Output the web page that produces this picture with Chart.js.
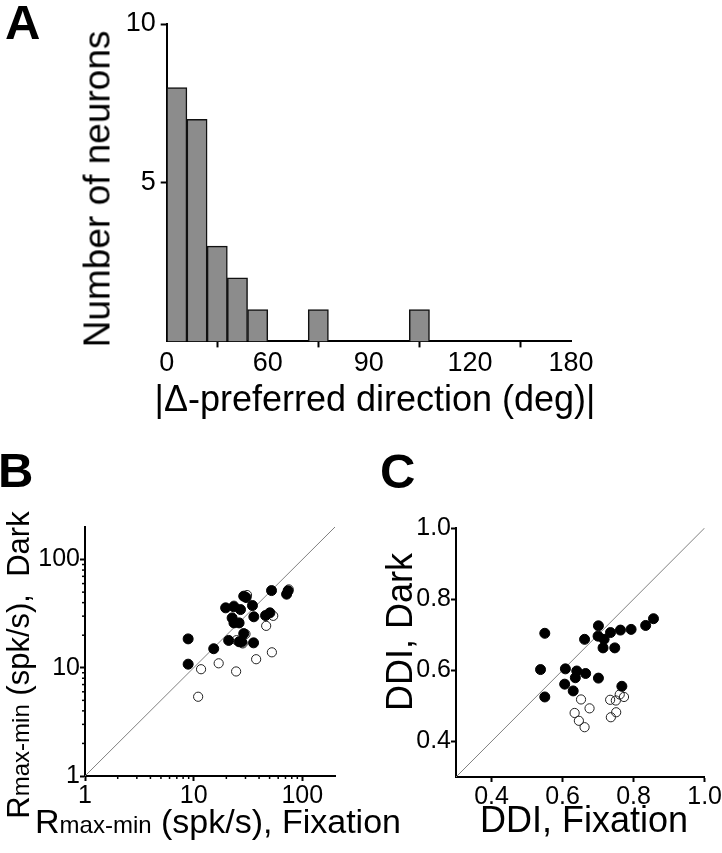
<!DOCTYPE html>
<html><head><meta charset="utf-8">
<script src="https://cdn.jsdelivr.net/npm/chart.js@4.4.0/dist/chart.umd.min.js"></script>
<style>
html,body{margin:0;padding:0;background:#fff;}
#page{position:relative;width:722px;height:853px;overflow:hidden;font-family:'Liberation Sans',Arial,sans-serif;color:#000;}
.box{position:absolute;}
.t{position:absolute;white-space:nowrap;line-height:1;}
.rot{transform:translate(-50%,-50%) rotate(-90deg);}
.ctr{transform:translate(-50%,-50%);}
.letter{font-weight:bold;font-size:49px;}
</style></head>
<body><div id="page">
<div class="box" style="left:0;top:0;width:722px;height:380px"><canvas id="cA"></canvas></div>
<div class="box" style="left:0;top:420px;width:361px;height:433px"><canvas id="cB"></canvas></div>
<div class="box" style="left:361px;top:420px;width:361px;height:433px"><canvas id="cC"></canvas></div>
<div class="t letter" style="left:5px;top:-2px">A</div>
<div class="t letter" style="left:-2px;top:446px">B</div>
<div class="t letter" style="left:380px;top:447px">C</div>
<div class="t rot" style="left:97px;top:189px;font-size:37px">Number of neurons</div>
<div class="t ctr" style="left:375px;top:399px;font-size:36px">|Δ-preferred direction (deg)|</div>
<div class="t rot" style="left:18px;top:665px;font-size:31px">R<span style="font-size:24px">max-min</span> (spk/s),&nbsp; Dark</div>
<div class="t ctr" style="left:218px;top:821px;font-size:34px">R<span style="font-size:24px">max-min</span> (spk/s), Fixation</div>
<div class="t rot" style="left:400px;top:632px;font-size:36px">DDI, Dark</div>
<div class="t ctr" style="left:584px;top:820px;font-size:36px">DDI, Fixation</div>
</div>
<script>
// ---------- Panel A data ----------
const binCenters = [4.5,13.5,22.5,31.5,40.5,49.5,58.5,67.5,76.5,85.5,94.5,103.5,112.5,121.5,130.5,139.5,148.5,157.5,166.5,175.5];
const neuronCounts = [8,7,3,2,1,0,0,1,0,0,0,0,1,0,0,0,0,0,0,0];
const aXTickValues = [0,45,90,135,180];
const aXTickLabels = ['0','60','90','120','180'];
const aYTickValues = [5,10];
const aYTickLabels = ['5','10'];

// ---------- Panel B data ----------
const bFilledX = [8.9,8.9,15.3,19.7,21.0,23.4,22.6,23.5,26.2,27.0,26.2,28.9,30.4,28.9,27.7,34.8,35.8,35.6,45.9,50.3,52.1,71.7,74.0];
const bFilledY = [18.5,10.8,15.0,35.8,17.9,36.6,28.9,26.0,26.0,34.5,17.4,45.9,44.6,20.7,17.3,37.6,29.6,17.0,30.4,32.2,51.7,47.9,51.4];
const bOpenX = [11.7,17.0,24.6,11.0,37.6,52.5,46.5,54.0,28.3,30.0,24.8,31.0,75.0,23.5];
const bOpenY = [9.7,11.0,9.25,5.4,12.0,13.9,24.4,30.2,16.8,20.5,18.0,47.0,53.0,37.5];
const bMajorTicks = [1,10,100];
const bTickLabels = ['1','10','100'];
const bMinorTicks = [2,3,4,5,6,7,8,9,20,30,40,50,60,70,80,90];
const bUnity = [1,200];

// ---------- Panel C data ----------
const cFilledX = [0.550,0.538,0.550,0.608,0.606,0.630,0.640,0.636,0.665,0.662,0.701,0.700,0.717,0.714,0.735,0.747,0.763,0.793,0.834,0.856,0.701,0.767];
const cFilledY = [0.704,0.602,0.525,0.604,0.561,0.542,0.598,0.579,0.591,0.687,0.725,0.696,0.687,0.663,0.706,0.663,0.713,0.715,0.726,0.745,0.578,0.555];
const cOpenX = [0.652,0.676,0.634,0.646,0.662,0.734,0.750,0.773,0.761,0.751,0.736];
const cOpenY = [0.518,0.493,0.480,0.458,0.440,0.517,0.515,0.525,0.532,0.482,0.468];
const cTickValues = [0.4,0.6,0.8,1.0];
const cTickLabels = ['0.4','0.6','0.8','1.0'];
const cUnity = [0.3,1.0];

const FAM = "'Liberation Sans', Arial, sans-serif";
const tickFontA = {family: FAM, size: 27};
const tickFont = {family: FAM, size: 25};
const zip = (xs, ys) => xs.map((x, i) => ({x, y: ys[i]}));
const setTicks = vals => s => { s.ticks = vals.map(v => ({value: v})); };
const base = {
  responsive: true, maintainAspectRatio: false, animation: false,
  plugins: {legend: {display: false}, tooltip: {enabled: false}, title: {display: false}}
};
function axis(extra) {
  return Object.assign({
    grid: {drawOnChartArea: false, drawTicks: true, tickLength: 6, tickColor: '#000', tickWidth: 2},
    border: {display: true, color: '#000', width: 2},
  }, extra);
}

// ---------- Chart A ----------
new Chart(document.getElementById('cA'), {
  type: 'bar',
  data: {datasets: [{
    data: zip(binCenters, neuronCounts),
    backgroundColor: '#8c8c8c', borderColor: '#111', borderWidth: 1.5,
    barPercentage: 1, categoryPercentage: 1
  }]},
  options: Object.assign({}, base, {
    layout: {padding: {left: 0, top: 24, right: 151, bottom: 0}},
    scales: {
      x: axis({type: 'linear', min: 0, max: 180, offset: false,
        afterBuildTicks: setTicks(aXTickValues),
        afterFit: s => { s.height = 38.6; },
        ticks: {callback: (v, i) => aXTickLabels[i], font: tickFontA, color: '#000', padding: 0, maxRotation: 0, autoSkip: false}
      }),
      y: axis({type: 'linear', min: 0, max: 10,
        afterBuildTicks: setTicks(aYTickValues),
        afterFit: s => { s.width = 166.7; },
        ticks: {callback: (v, i) => aYTickLabels[i], font: tickFontA, color: '#000', padding: 5, autoSkip: false}
      })
    }
  })
});

// ---------- minor ticks for log panel ----------
const minorTicks = {
  id: 'minorTicks',
  afterDraw(chart) {
    const ctx = chart.ctx, xs = chart.scales.x, ys = chart.scales.y;
    ctx.save(); ctx.strokeStyle = '#000'; ctx.lineWidth = 1.5;
    bMinorTicks.forEach(v => {
      const px = xs.getPixelForValue(v);
      ctx.beginPath(); ctx.moveTo(px, xs.top); ctx.lineTo(px, xs.top + 3); ctx.stroke();
      const py = ys.getPixelForValue(v);
      ctx.beginPath(); ctx.moveTo(ys.right, py); ctx.lineTo(ys.right - 3, py); ctx.stroke();
    });
    ctx.restore();
  }
};

function scatterSets(fx, fy, ox, oy, ux) {
  return [
    {data: zip(fx, fy), pointRadius: 5, pointBackgroundColor: '#000', pointBorderColor: '#000', pointBorderWidth: 1, showLine: false},
    {data: zip(ox, oy), pointRadius: 4.6, pointBackgroundColor: 'rgba(255,255,255,0)', pointBorderColor: '#222', pointBorderWidth: 1, showLine: false},
    {data: zip(ux, ux), showLine: true, borderColor: '#808080', borderWidth: 1, pointRadius: 0}
  ];
}

// ---------- Chart B ----------
new Chart(document.getElementById('cB'), {
  type: 'scatter',
  data: {datasets: scatterSets(bFilledX, bFilledY, bOpenX, bOpenY, bUnity)},
  options: Object.assign({}, base, {
    layout: {padding: {left: 0, top: 107, right: 26, bottom: 0}},
    scales: {
      x: axis({type: 'logarithmic', min: 1, max: 200,
        afterBuildTicks: setTicks(bMajorTicks),
        afterFit: s => { s.height = 77; },
        grid: {drawOnChartArea: false, tickLength: 5, tickColor: '#000', tickWidth: 2},
        ticks: {callback: (v, i) => bTickLabels[i], font: tickFont, color: '#000', padding: 0, maxRotation: 0, autoSkip: false}
      }),
      y: axis({type: 'logarithmic', min: 1, max: 200,
        afterBuildTicks: setTicks(bMajorTicks),
        afterFit: s => { s.width = 85; },
        grid: {drawOnChartArea: false, tickLength: 5, tickColor: '#000', tickWidth: 2},
        ticks: {callback: (v, i) => bTickLabels[i], font: tickFont, color: '#000', padding: 0, autoSkip: false}
      })
    }
  }),
  plugins: [minorTicks]
});

// ---------- Chart C ----------
new Chart(document.getElementById('cC'), {
  type: 'scatter',
  data: {datasets: scatterSets(cFilledX, cFilledY, cOpenX, cOpenY, cUnity)},
  options: Object.assign({}, base, {
    layout: {padding: {left: 0, top: 108, right: 17, bottom: 0}},
    scales: {
      x: axis({type: 'linear', min: 0.3, max: 1.0,
        afterBuildTicks: setTicks(cTickValues),
        afterFit: s => { s.height = 76; },
        grid: {drawOnChartArea: false, tickLength: 5, tickColor: '#000', tickWidth: 2},
        ticks: {callback: (v, i) => cTickLabels[i], font: tickFont, color: '#000', padding: 0, maxRotation: 0, autoSkip: false}
      }),
      y: axis({type: 'linear', min: 0.3, max: 1.0,
        afterBuildTicks: setTicks(cTickValues),
        afterFit: s => { s.width = 95; },
        grid: {drawOnChartArea: false, tickLength: 5, tickColor: '#000', tickWidth: 2},
        ticks: {callback: (v, i) => cTickLabels[i], font: tickFont, color: '#000', padding: 0, autoSkip: false}
      })
    }
  })
});
</script>
</body></html>
